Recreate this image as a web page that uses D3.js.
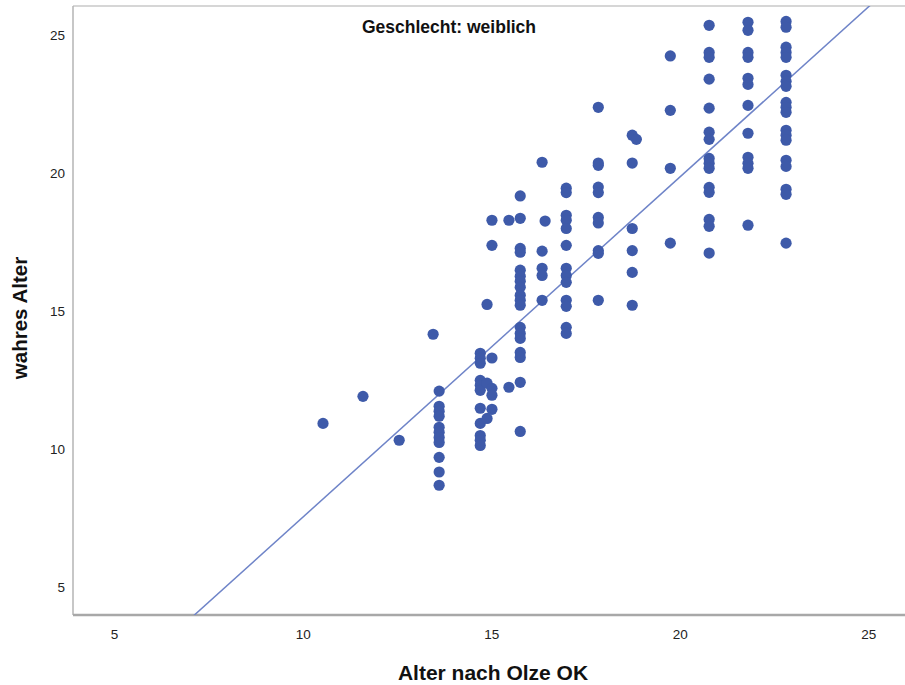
<!DOCTYPE html>
<html><head><meta charset="utf-8">
<script src="https://cdn.jsdelivr.net/npm/d3@7"></script>
<style>
body{margin:0;background:#fff;}
svg text{font-family:"Liberation Sans",Arial,sans-serif;}
</style></head>
<body><svg id="chart" width="905" height="685"></svg>
<script>
// Olze stages (x) and true ages (y) for each stage
const olzeStages = [10.54, 11.6, 12.56, 13.46, 13.62, 14.71, 14.89, 15.02, 15.47, 15.77, 16.35, 16.43, 16.99, 17.84, 18.74, 18.85, 19.75, 20.78, 21.81, 22.82];
const wahresAlter = [
  [10.94],
  [11.92],
  [10.33],
  [14.17],
  [12.11, 11.56, 11.38, 11.2, 10.8, 10.62, 10.43, 10.25, 9.71, 9.18, 8.70],
  [13.48, 13.3, 13.12, 12.5, 12.32, 12.14, 11.49, 10.94, 10.5, 10.33, 10.14],
  [15.25, 12.4, 11.12],
  [18.3, 17.39, 13.31, 12.21, 11.96, 11.45],
  [18.3, 12.25],
  [19.18, 18.37, 17.28, 17.14, 16.49, 16.27, 16.09, 15.87, 15.58, 15.4, 15.22, 14.42, 14.2, 14.02, 13.51, 13.33, 12.43, 10.65],
  [20.4, 17.18, 16.56, 16.3, 15.4],
  [18.27],
  [19.46, 19.3, 18.48, 18.3, 18.0, 17.39, 16.56, 16.3, 16.05, 15.4, 15.18, 14.42, 14.2],
  [22.39, 20.37, 20.29, 19.5, 19.3, 18.4, 18.2, 17.2, 17.1, 15.4],
  [21.38, 20.37, 18.0, 17.2, 16.41, 15.22],
  [21.23],
  [24.25, 22.28, 20.18, 17.47],
  [25.36, 24.38, 24.2, 23.41, 22.36, 21.49, 21.23, 20.54, 20.36, 20.18, 19.49, 19.31, 18.33, 18.08, 17.11],
  [25.47, 25.18, 24.38, 24.2, 23.44, 23.22, 22.46, 21.45, 20.58, 20.36, 20.18, 18.12],
  [25.5, 25.29, 24.57, 24.38, 24.2, 23.55, 23.33, 23.15, 22.57, 22.39, 22.21, 21.56, 21.38, 21.2, 20.47, 20.25, 19.42, 19.24, 17.47]
];
const xTicks = [5, 10, 15, 20, 25];
const yTicks = [5, 10, 15, 20, 25];
const fitLine = [-4.787, 1.2324]; // intercept, slope
const titleText = "Geschlecht: weiblich";
const xTitle = "Alter nach Olze OK";
const yTitle = "wahres Alter";

const points = [];
olzeStages.forEach((s, i) => wahresAlter[i].forEach(v => points.push({x: s, y: v})));

const svg = d3.select("#chart");
const pL = 73, pR = 906, pT = 6, pB = 615;
const x = d3.scaleLinear().domain([3.91, 26]).range([pL, pR]);
const y = d3.scaleLinear().domain([4, 26.06]).range([pB, pT]);

svg.append("defs").append("clipPath").attr("id", "clip")
  .append("rect").attr("x", pL).attr("y", pT).attr("width", pR - pL).attr("height", pB - pT);

// frame
svg.append("line").attr("x1", pL).attr("x2", 905).attr("y1", pT).attr("y2", pT)
  .attr("stroke", "#c8c8c8").attr("stroke-width", 1.5);
svg.append("line").attr("x1", pL).attr("x2", pL).attr("y1", pT).attr("y2", pB)
  .attr("stroke", "#b4b4b4").attr("stroke-width", 1.5);

// axes (labels only)
const xAxis = d3.axisBottom(x).tickValues(xTicks).tickSize(0).tickPadding(14);
const gx = svg.append("g").attr("transform", `translate(0,${pB})`).call(xAxis);
const yAxis = d3.axisLeft(y).tickValues(yTicks).tickSize(0).tickPadding(8);
const gy = svg.append("g").attr("transform", `translate(${pL},0)`).call(yAxis);
[gx, gy].forEach(g => {
  g.select(".domain").remove();
  g.selectAll("text").attr("font-size", 13.5).attr("fill", "#222")
    .style("font-family", "'Liberation Sans', Arial, sans-serif");
});

svg.append("line").attr("x1", pL).attr("x2", 905).attr("y1", pB).attr("y2", pB)
  .attr("stroke", "#a8a8a8").attr("stroke-width", 2.5);

// regression line
const fy = v => fitLine[0] + fitLine[1] * v;
svg.append("line").attr("clip-path", "url(#clip)")
  .attr("x1", x(3.91)).attr("y1", y(fy(3.91)))
  .attr("x2", x(26)).attr("y2", y(fy(26)))
  .attr("stroke", "#6f84c8").attr("stroke-width", 1.5);

// points
svg.append("g").selectAll("circle").data(points).join("circle")
  .attr("cx", d => x(d.x)).attr("cy", d => y(d.y)).attr("r", 5.6)
  .attr("fill", "#3e5aa9");

// titles
svg.append("text").attr("x", 449).attr("y", 33).attr("text-anchor", "middle")
  .attr("font-size", 17.5).attr("font-weight", "bold").attr("fill", "#111").text(titleText);
svg.append("text").attr("x", 493).attr("y", 680).attr("text-anchor", "middle")
  .attr("font-size", 21).attr("font-weight", "bold").attr("fill", "#111").text(xTitle);
svg.append("text").attr("transform", "translate(27,318) rotate(-90)").attr("text-anchor", "middle")
  .attr("font-size", 20.5).attr("font-weight", "bold").attr("fill", "#111").text(yTitle);
</script></body></html>
